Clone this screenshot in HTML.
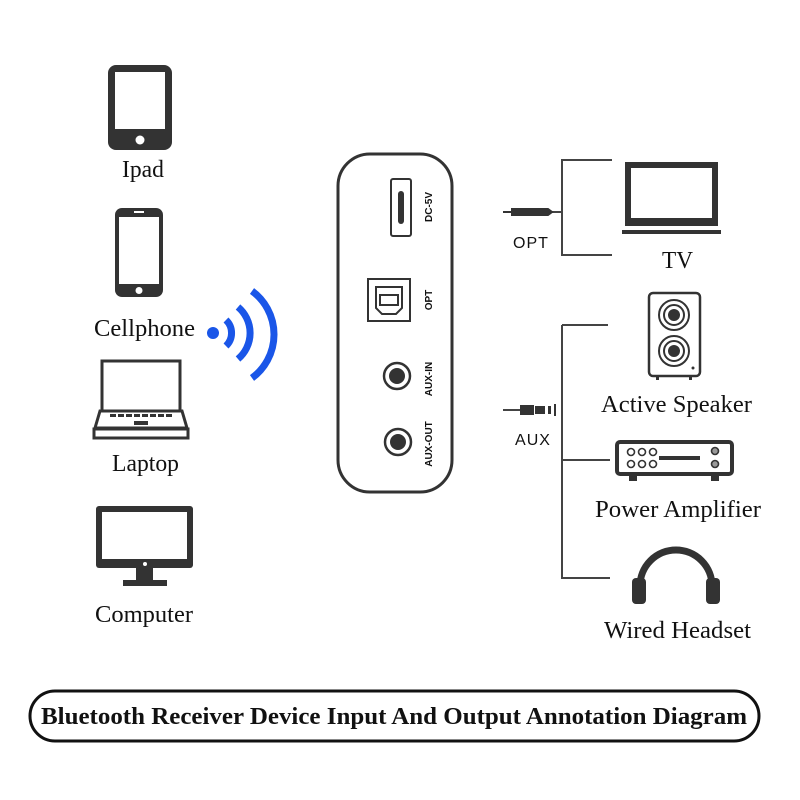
<!DOCTYPE html>
<html><head><meta charset="utf-8"><style>
html,body{margin:0;padding:0;background:#fff;}
svg{display:block;}
text{font-family:"Liberation Serif",serif;fill:#111;}
.s{font-family:"Liberation Sans",sans-serif;}
</style></head><body>
<svg width="800" height="800" viewBox="0 0 800 800" xmlns="http://www.w3.org/2000/svg">
<!-- iPad -->
<rect x="108" y="65" width="64" height="85" rx="8" fill="#333"/>
<rect x="115" y="72" width="50" height="57" fill="#fff"/>
<circle cx="140" cy="140" r="4.5" fill="#fff"/>
<text x="122" y="177" font-size="24" textLength="42" lengthAdjust="spacingAndGlyphs">Ipad</text>
<!-- Phone -->
<rect x="115" y="208" width="48" height="89" rx="7" fill="#333"/>
<rect x="119" y="217" width="40" height="67" fill="#fff"/>
<rect x="134" y="211" width="10" height="2" fill="#fff"/>
<circle cx="139" cy="290.5" r="3.5" fill="#fff"/>
<text x="94" y="336" font-size="24" textLength="101" lengthAdjust="spacingAndGlyphs">Cellphone</text>
<!-- wifi -->
<circle cx="213" cy="333" r="6" fill="#1a56e8"/>
<g fill="none" stroke="#1a56e8" stroke-width="7" stroke-linecap="butt">
<path d="M226 320 A18 18 0 0 1 226 346"/>
<path d="M238 307 A34 34 0 0 1 238 359"/>
<path d="M252 291 A54 54 0 0 1 252 378"/>
</g>
<!-- Laptop -->
<rect x="102" y="361" width="78" height="50" fill="none" stroke="#333" stroke-width="3"/>
<path d="M100 411 L182 411 L187 428 L95 428 Z" fill="none" stroke="#333" stroke-width="3"/>
<rect x="94" y="429" width="94" height="9" fill="none" stroke="#333" stroke-width="3"/>
<g fill="#333"><rect x="110" y="414" width="62" height="3"/><rect x="134" y="421" width="14" height="4"/></g>
<g fill="#fff"><rect x="116" y="414" width="2" height="3"/><rect x="124" y="414" width="2" height="3"/><rect x="132" y="414" width="2" height="3"/><rect x="140" y="414" width="2" height="3"/><rect x="148" y="414" width="2" height="3"/><rect x="156" y="414" width="2" height="3"/><rect x="164" y="414" width="2" height="3"/></g>
<text x="112" y="471" font-size="24" textLength="67" lengthAdjust="spacingAndGlyphs">Laptop</text>
<!-- Computer -->
<rect x="96" y="506" width="97" height="62" rx="3" fill="#333"/>
<rect x="102" y="512" width="85" height="47" fill="#fff"/>
<circle cx="145" cy="564" r="2" fill="#fff"/>
<rect x="136" y="568" width="17" height="12" fill="#333"/>
<rect x="123" y="580" width="44" height="6" fill="#333"/>
<text x="95" y="622" font-size="24" textLength="98" lengthAdjust="spacingAndGlyphs">Computer</text>
<!-- device -->
<rect x="338" y="154" width="114" height="338" rx="32" fill="none" stroke="#333" stroke-width="3"/>
<rect x="391" y="179" width="20" height="57" rx="2" fill="none" stroke="#333" stroke-width="2"/>
<rect x="398" y="191" width="6" height="33" rx="3" fill="#333"/>
<text class="s" transform="translate(432,207) rotate(-90)" font-size="10" font-weight="bold" text-anchor="middle">DC-5V</text>
<rect x="368" y="279" width="42" height="42" fill="none" stroke="#333" stroke-width="2"/>
<path d="M376 287 L402 287 L402 308 L396 314 L382 314 L376 308 Z" fill="none" stroke="#333" stroke-width="2"/>
<rect x="380" y="295" width="18" height="10" fill="none" stroke="#333" stroke-width="2"/>
<text class="s" transform="translate(432,300) rotate(-90)" font-size="10" font-weight="bold" text-anchor="middle">OPT</text>
<circle cx="397" cy="376" r="13" fill="none" stroke="#333" stroke-width="2.5"/>
<circle cx="397" cy="376" r="8" fill="#333"/>
<text class="s" transform="translate(432,379) rotate(-90)" font-size="10" font-weight="bold" text-anchor="middle">AUX-IN</text>
<circle cx="398" cy="442" r="13" fill="none" stroke="#333" stroke-width="2.5"/>
<circle cx="398" cy="442" r="8" fill="#333"/>
<text class="s" transform="translate(432,444) rotate(-90)" font-size="10" font-weight="bold" text-anchor="middle">AUX-OUT</text>
<!-- cables & brackets -->
<g stroke="#444" fill="none" stroke-width="2">
<path d="M612 160 L562 160 L562 255 L612 255"/>
<path d="M548 212 L562 212"/>
<path d="M562 325 L608 325 M562 325 L562 578 L610 578 M562 460 L610 460"/>
<path d="M503 410 L520 410"/>
</g>
<path d="M503 212 L512 212 M512 209 L548 209 L552 212 L548 215 L512 215 Z" stroke="#333" stroke-width="2" fill="#333"/>
<rect x="520" y="405" width="14" height="10" fill="#333"/>
<rect x="535" y="406" width="10" height="8" fill="#333"/>
<rect x="548" y="406" width="3" height="8" fill="#333"/>
<rect x="554" y="404" width="2" height="12" fill="#333"/>
<text class="s" x="531" y="248" font-size="16" fill="#333" text-anchor="middle" letter-spacing="1">OPT</text>
<text class="s" x="533" y="445" font-size="16" fill="#333" text-anchor="middle" letter-spacing="1">AUX</text>
<!-- TV -->
<rect x="625" y="162" width="93" height="64" fill="#333"/>
<rect x="631" y="168" width="81" height="50" fill="#fff"/>
<rect x="622" y="230" width="99" height="4" fill="#333"/>
<text x="662" y="268" font-size="24" textLength="31" lengthAdjust="spacingAndGlyphs">TV</text>
<!-- Speaker -->
<rect x="649" y="293" width="51" height="83" rx="4" fill="none" stroke="#333" stroke-width="2.5"/>
<rect x="656" y="376" width="3" height="4" fill="#333"/><rect x="689" y="376" width="3" height="4" fill="#333"/>
<g fill="none" stroke="#333" stroke-width="2"><circle cx="674" cy="315" r="15"/><circle cx="674" cy="315" r="10"/><circle cx="674" cy="351" r="15"/><circle cx="674" cy="351" r="10"/></g>
<circle cx="674" cy="315" r="6" fill="#333"/><circle cx="674" cy="351" r="6" fill="#333"/>
<circle cx="693" cy="368" r="1.5" fill="#333"/>
<text x="601" y="412" font-size="24" textLength="151" lengthAdjust="spacingAndGlyphs">Active Speaker</text>
<!-- Amp -->
<rect x="617" y="442" width="115" height="32" rx="3" fill="none" stroke="#333" stroke-width="4"/>
<rect x="629" y="474" width="8" height="7" fill="#333"/><rect x="711" y="474" width="8" height="7" fill="#333"/>
<g fill="none" stroke="#333" stroke-width="1.6">
<circle cx="631" cy="452" r="3.5"/><circle cx="642" cy="452" r="3.5"/><circle cx="653" cy="452" r="3.5"/>
<circle cx="631" cy="464" r="3.5"/><circle cx="642" cy="464" r="3.5"/><circle cx="653" cy="464" r="3.5"/>
<circle cx="715" cy="451" r="3.5" fill="#999"/><circle cx="715" cy="464" r="3.5" fill="#999"/>
</g>
<rect x="659" y="456" width="41" height="4" fill="#333"/>
<text x="595" y="517" font-size="24" textLength="166" lengthAdjust="spacingAndGlyphs">Power Amplifier</text>
<!-- Headset -->
<path d="M640 598 L640 586 A35 35 0 0 1 712 586 L712 598" fill="none" stroke="#333" stroke-width="7"/>
<rect x="632" y="578" width="14" height="26" rx="4" fill="#333"/>
<rect x="706" y="578" width="14" height="26" rx="4" fill="#333"/>
<text x="604" y="638" font-size="24" textLength="147" lengthAdjust="spacingAndGlyphs">Wired Headset</text>
<!-- banner -->
<rect x="30" y="691" width="729" height="50" rx="25" fill="#fff" stroke="#111" stroke-width="3"/>
<text x="41" y="724" font-size="24" font-weight="bold" textLength="706" lengthAdjust="spacingAndGlyphs">Bluetooth Receiver Device Input And Output Annotation Diagram</text>
</svg>
</body></html>
